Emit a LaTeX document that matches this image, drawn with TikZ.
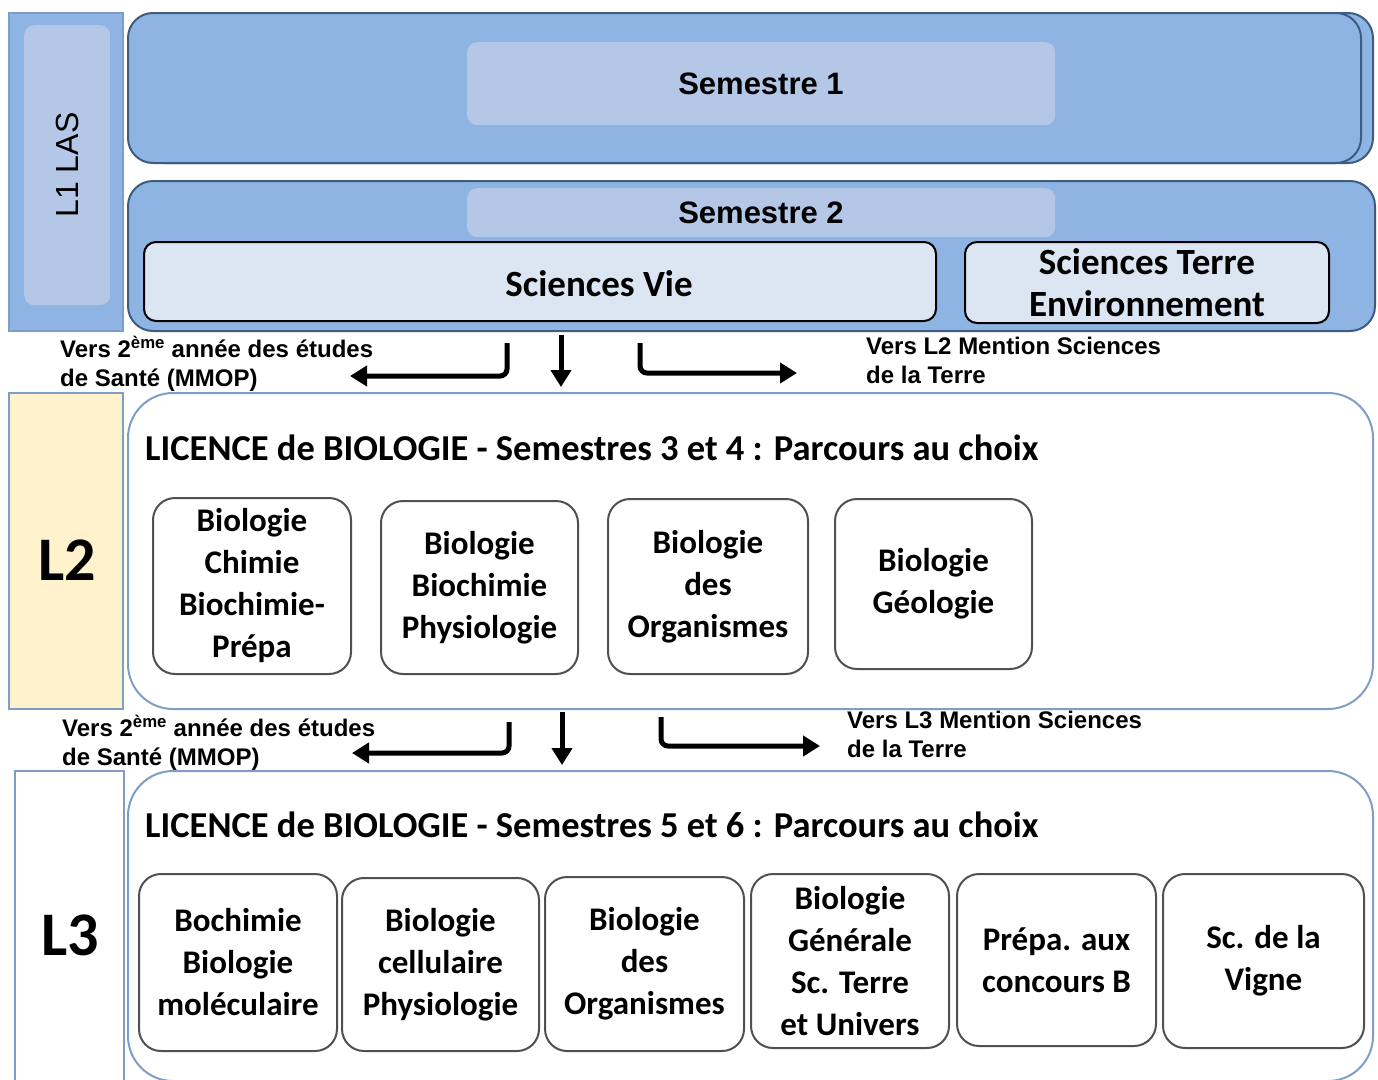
\documentclass[tikz,border=0pt]{standalone}
\usepackage{fontspec}
\setmainfont{Carlito}
\newfontfamily\arial{Liberation Sans}
\usetikzlibrary{arrows.meta}
\tikzset{>={Triangle[length=17pt,width=20pt]}}
\definecolor{bleu}{HTML}{8EB4E3}
\definecolor{bleuclair}{HTML}{B4C7E7}
\definecolor{bleupale}{HTML}{DCE6F2}
\definecolor{bord}{HTML}{3E5B82}
\definecolor{acier}{HTML}{7E9EC6}
\definecolor{creme}{HTML}{FFF2CC}
\definecolor{gris}{HTML}{505050}
\tikzset{
  boite/.style={rectangle, inner sep=0pt, anchor=north west},
  semestre/.style={boite, draw=bord, fill=bleu, line width=2pt, rounded corners=25pt},
  clair/.style={boite, fill=bleuclair, rounded corners=10pt},
  voie/.style={boite, draw=black, fill=bleupale, line width=2pt, rounded corners=12pt,
    align=center, font=\bfseries\fontsize{37}{42}\selectfont},
  annee/.style={boite, draw=acier, line width=2pt, rounded corners=45pt},
  cote/.style={boite, draw=acier, line width=1.5pt},
  parcours/.style={boite, draw=gris, line width=2pt, rounded corners=22pt, align=center,
    font=\bfseries\fontsize{33}{42}\selectfont},
  titre/.style={anchor=base west, inner sep=0pt, font=\bfseries\fontsize{36.5}{40}\selectfont},
  vers/.style={anchor=north west, inner sep=0pt, align=left,
    font=\arial\bfseries\fontsize{24}{29}\selectfont},
  fleche/.style={->, line width=5pt, rounded corners=7pt},
}
\begin{document}
\begin{tikzpicture}[x=1pt, y=-1pt]
\clip (0,0) rectangle (1378,1079);
% premiere annee
\node[cote, fill=bleu, minimum width=114pt, minimum height=318pt] (l1) at (8,12) {};
\node[clair, minimum width=86pt, minimum height=280pt] (l1in) at (24,25) {};
\node[rotate=90, font=\arial\fontsize{32}{32}\selectfont] (l1txt) at (67,165) {L1 LAS};
\node[semestre, minimum width=1233pt, minimum height=150pt] (s1ombre) at (139,12) {};
\node[semestre, minimum width=1233pt, minimum height=150pt] (s1) at (127,12) {};
\node[clair, minimum width=588pt, minimum height=83pt] (s1in) at (467,42) {};
\node[font=\arial\bfseries\fontsize{31}{31}\selectfont] (s1txt) at (761,84) {Semestre 1};
\node[semestre, minimum width=1247pt, minimum height=150pt] (s2) at (127,180) {};
\node[clair, minimum width=588pt, minimum height=49pt] (s2in) at (467,188) {};
\node[font=\arial\bfseries\fontsize{31}{31}\selectfont] (s2txt) at (761,213) {Semestre 2};
\node[voie, minimum width=792pt, minimum height=79pt] (vie) at (143,241) {};
\node[font=\bfseries\fontsize{37}{42}\selectfont] (vietxt) at (599,284) {Sciences Vie};
\node[voie, minimum width=364pt, minimum height=81pt] (terre) at (964,241) {Sciences Terre\\Environnement};
% vers L2
\node[vers] (sante1) at (60,336) {Vers 2\textsuperscript{ème} année des études\\de Santé (MMOP)};
\node[vers] (stu1) at (866,337) {Vers L2 Mention Sciences\\de la Terre};
\coordinate (g1) at (507,343);
\coordinate (g1fin) at (350,376);
\coordinate (m1) at (561,335);
\coordinate (m1fin) at (561,387);
\coordinate (d1) at (640,343);
\coordinate (d1fin) at (797,373);
\draw[fleche] (g1) |- (g1fin);
\draw[fleche] (m1) -- (m1fin);
\draw[fleche] (d1) |- (d1fin);
% deuxieme annee
\node[cote, fill=creme, minimum width=114pt, minimum height=316pt] (l2) at (8,392) {};
\node[font=\bfseries\fontsize{62}{62}\selectfont] (l2txt) at (67,560) {L2};
\node[annee, minimum width=1245pt, minimum height=316pt] (lic2) at (127,392) {};
\node[titre] (titre2) at (145,460) {LICENCE de BIOLOGIE - Semestres 3 et 4 : Parcours au choix};
\node[parcours, minimum width=198pt, minimum height=176pt] (bcbp) at (152,497) {Biologie\\Chimie\\Biochimie-\\Prépa};
\node[parcours, minimum width=197pt, minimum height=173pt] (bbp) at (380,500) {Biologie\\Biochimie\\Physiologie};
\node[parcours, minimum width=200pt, minimum height=175pt] (bdo2) at (607,498) {Biologie\\des\\Organismes};
\node[parcours, minimum width=197pt, minimum height=170pt] (bg) at (834,498) {Biologie\\Géologie};
% vers L3
\node[vers] (sante2) at (62,715) {Vers 2\textsuperscript{ème} année des études\\de Santé (MMOP)};
\node[vers] (stu2) at (847,711) {Vers L3 Mention Sciences\\de la Terre};
\coordinate (g2) at (509,722);
\coordinate (g2fin) at (352,753);
\coordinate (m2) at (562,712);
\coordinate (m2fin) at (562,765);
\coordinate (d2) at (661,717);
\coordinate (d2fin) at (820,746);
\draw[fleche] (g2) |- (g2fin);
\draw[fleche] (m2) -- (m2fin);
\draw[fleche] (d2) |- (d2fin);
% troisieme annee
\node[cote, fill=white, minimum width=109pt, minimum height=320pt] (l3) at (14,770) {};
\node[font=\bfseries\fontsize{62}{62}\selectfont] (l3txt) at (70,935) {L3};
\node[annee, minimum width=1245pt, minimum height=310pt] (lic3) at (127,770) {};
\node[titre] (titre3) at (145,837) {LICENCE de BIOLOGIE - Semestres 5 et 6 : Parcours au choix};
\node[parcours, minimum width=198pt, minimum height=177pt] (bbm) at (138,873) {Bochimie\\Biologie\\moléculaire};
\node[parcours, minimum width=197pt, minimum height=173pt] (bcp) at (341,877) {Biologie\\cellulaire\\Physiologie};
\node[parcours, minimum width=199pt, minimum height=174pt] (bdo3) at (544,876) {Biologie\\des\\Organismes};
\node[parcours, minimum width=198pt, minimum height=174pt] (bgstu) at (750,873) {Biologie\\Générale\\Sc. Terre\\et Univers};
\node[parcours, minimum width=199pt, minimum height=172pt] (prepa) at (956,873) {Prépa. aux\\concours B};
\node[parcours, minimum width=201pt, minimum height=174pt] (vigne) at (1162,873) {Sc. de la\\Vigne};
\end{tikzpicture}
\end{document}
